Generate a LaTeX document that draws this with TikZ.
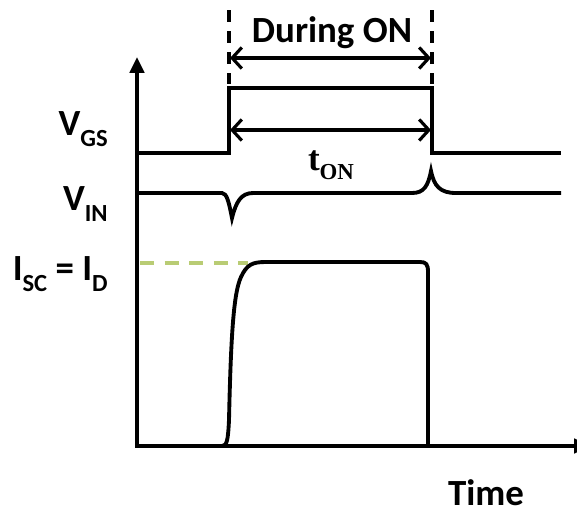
\documentclass[tikz,border=0pt]{standalone}
\usepackage{fontspec}
\setmainfont{Carlito}
\newfontfamily\tonfont{Liberation Serif}
\usetikzlibrary{arrows.meta}
\definecolor{isclevel}{HTML}{B9CC74}

\newcommand{\withsub}[2]{#1\raisebox{-0.3em}{\fontsize{14}{14}\selectfont #2}}

\begin{document}
\begin{tikzpicture}[x=0.02cm, y=-0.02cm,
    lbl/.style={font=\fontsize{21}{21}\selectfont\bfseries, inner sep=0pt},
    sig/.style={line width=2.2pt, line join=miter},
    axes/.style={line width=2.4pt, {Triangle[length=9pt, width=8pt]}-{Triangle[length=9pt, width=8pt]}},
    span/.style={line width=1.8pt, {Straight Barb[length=5.5pt, width=12pt]}-{Straight Barb[length=5.5pt, width=12pt]}},
    marker/.style={line width=2pt, dash pattern=on 7pt off 5pt},
    level/.style={line width=2pt, isclevel, dash pattern=on 8pt off 6pt}
]
\useasboundingbox (0,0) rectangle (577,511);

% Axes
\coordinate (ytop) at (137,57);
\coordinate (origin) at (137,446);
\coordinate (xend) at (590,446);
\draw[axes] (ytop) -- (origin) -- (xend);

% Labels
\node[lbl, anchor=base east] (vgs) at (108,135) {\withsub{V}{GS}};
\node[lbl, anchor=base east] (vin) at (108,210) {\withsub{V}{IN}};
\node[lbl, anchor=base east] (isc) at (108,280) {\withsub{I}{SC} = \withsub{I}{D}};
\node[lbl, anchor=base, text depth=0pt] (time) at (486,505) {Time};
\node[lbl, anchor=base] (during) at (332,42) {During ON};
\node[anchor=base, inner sep=0pt, font=\tonfont\bfseries\fontsize{20}{20}\selectfont] (ton) at (331,170)
    {t\raisebox{-0.28em}{\fontsize{13}{13}\selectfont ON}};

% ON window markers
\coordinate (m1top) at (229,10);
\coordinate (m1bot) at (229,84);
\coordinate (m2top) at (432,10);
\coordinate (m2bot) at (432,84);
\draw[marker] (m1top) -- (m1bot);
\draw[marker] (m2top) -- (m2bot);
\coordinate (d1) at (230,58);
\coordinate (d2) at (431,58);
\draw[span] (d1) -- (d2);

% V_GS pulse
\draw[sig] (139,153) -- (229,153) -- (229,88) -- (432,88) -- (432,153) -- (561,153);
\coordinate (t1) at (230,130);
\coordinate (t2) at (431,130);
\draw[span] (t1) -- (t2);

% V_IN with glitches
\draw[sig] (139,193) -- (222,193)
    .. controls (227,193) and (229,203) .. (232,218)
    .. controls (236,202) and (241,193) .. (253,193)
    -- (412,193)
    .. controls (424,193) and (428,186) .. (431,171)
    .. controls (434,186) and (440,193) .. (456,193)
    -- (561,193);

% I_SC level
\coordinate (lv1) at (140,263);
\coordinate (lv2) at (248,263);
\draw[level] (lv1) -- (lv2);

% Drain current
\draw[sig, line join=round] (222,446)
    .. controls (227,446) and (228,440) .. (229,420)
    .. controls (231,330) and (234,292) .. (241,277)
    .. controls (247,264) and (253,262) .. (266,262)
    -- (420,262)
    .. controls (426,262) and (428,264) .. (428,272)
    -- (428,446);

\end{tikzpicture}
\end{document}
